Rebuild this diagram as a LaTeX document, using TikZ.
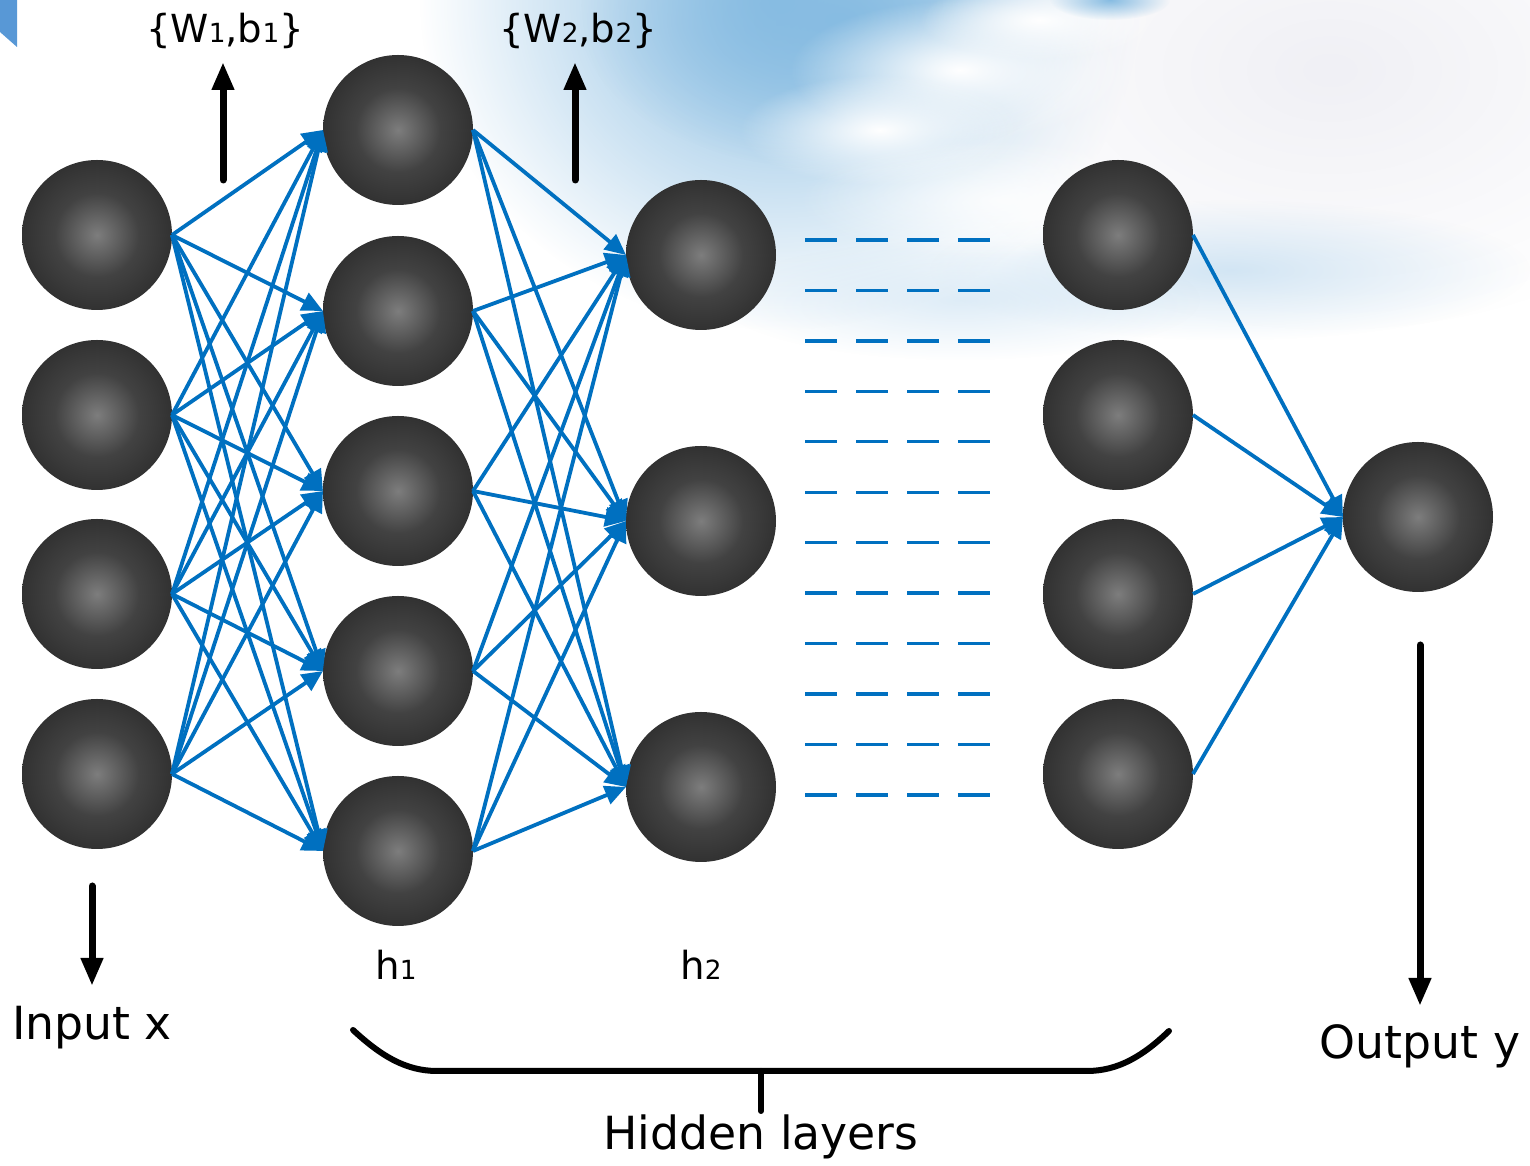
\documentclass[tikz,border=0pt]{standalone}
\usepackage{fontspec}
\setmainfont{DejaVu Sans}
\usepackage{graphicx}
\usetikzlibrary{arrows.meta,fadings}

\definecolor{nnblue}{RGB}{0,112,192}
\definecolor{skyblue}{RGB}{135,188,226}
\definecolor{skypale}{RGB}{200,224,242}
\definecolor{cloudgray}{RGB}{240,240,245}
\definecolor{cornerblue}{RGB}{88,152,214}
\definecolor{sphc}{RGB}{125,125,125}
\definecolor{sphm}{RGB}{66,66,66}
\definecolor{sphq}{RGB}{42,42,42}
\definecolor{sphd}{RGB}{26,26,26}

\pgfdeclareradialshading{sphere}{\pgfpoint{0bp}{0bp}}{color(0bp)=(sphc); color(14bp)=(sphm); color(30bp)=(sphq); color(48bp)=(sphd); color(50bp)=(sphd)}
\tikzfading[name=blobfade, inner color=transparent!0, outer color=transparent!100]

\newcommand\sbd[1]{{\fontsize{7.5pt}{8pt}\selectfont #1}}

\begin{document}
\begin{tikzpicture}[x=0.1mm,y=-0.1mm,
  neuron/.style={circle, minimum size=15mm, inner sep=0pt, outer sep=0pt, shading=sphere},
  wire/.style={draw=nnblue, line width=0.38mm, -{Triangle[length=2.1mm,width=1.9mm]}},
  bigarrow/.style={draw=black, line width=0.7mm, line cap=round, -{Triangle[length=2.8mm,width=2.1mm]}},
  dashrow/.style={draw=nnblue, line width=0.33mm, dash pattern=on 3.2mm off 1.9mm},
  bracepath/.style={draw=black, line width=0.6mm, line cap=round},
  biglbl/.style={anchor=base, inner sep=0pt, font=\fontsize{13pt}{15pt}\selectfont},
  smalllbl/.style={anchor=base, inner sep=0pt, font=\fontsize{11pt}{13pt}\selectfont},
  blob/.style={path fading=blobfade, draw=none}
]
\useasboundingbox (0,0) rectangle (1530,1166);
\fill[white] (0,0) rectangle (1530,1166);

% sky background
\fill[skyblue, blob] (780,0) ellipse [x radius=360, y radius=330];
\fill[skyblue, blob] (840,20) ellipse [x radius=260, y radius=150];
\fill[cloudgray, blob] (1330,70) ellipse [x radius=420, y radius=260];
\fill[skypale, blob, opacity=0.8] (1230,270) ellipse [x radius=300, y radius=70];
\fill[skypale, blob, opacity=0.6] (960,300) ellipse [x radius=240, y radius=60];
\fill[white, blob] (960,70) ellipse [x radius=170, y radius=70];
\fill[white, blob] (880,130) ellipse [x radius=140, y radius=55];
\fill[white, blob] (1040,20) ellipse [x radius=120, y radius=40];
\fill[white, blob, opacity=0.8] (1000,200) ellipse [x radius=200, y radius=60];
\fill[skyblue, blob] (1110,0) ellipse [x radius=60, y radius=20];

% corner mark
\fill[cornerblue] (0,0) -- (17,0) -- (17,47) -- (0,32) -- cycle;

% neurons
\foreach \k/\y in {1/235,2/415,3/594,4/774} \node[neuron] (i\k) at (97,\y) {};
\foreach \k/\y in {1/130,2/311,3/491,4/671,5/851} \node[neuron] (a\k) at (398,\y) {};
\foreach \k/\y in {1/255,2/521,3/787} \node[neuron] (b\k) at (701,\y) {};
\foreach \k/\y in {1/235,2/415,3/594,4/774} \node[neuron] (c\k) at (1118,\y) {};
\node[neuron] (o) at (1418,517) {};

% connections
\foreach \s in {1,...,4} \foreach \t in {1,...,5} \draw[wire] (i\s.east) -- (a\t.west);
\foreach \s in {1,...,5} \foreach \t in {1,...,3} \draw[wire] (a\s.east) -- (b\t.west);
\foreach \s in {1,...,4} \draw[wire] (c\s.east) -- (o.west);

% dashed rows
\foreach \k in {0,...,11} \draw[dashrow] (805,{240+\k*50.45}) -- (991,{240+\k*50.45});

% parameter arrows and labels
\coordinate (w1s) at (223,180); \coordinate (w1e) at (223,62);
\coordinate (w2s) at (575,180); \coordinate (w2e) at (575,62);
\draw[bigarrow] (w1s) -- (w1e);
\draw[bigarrow] (w2s) -- (w2e);
\node[smalllbl] (w1lbl) at (225,43) {\{W\sbd{1},b\sbd{1}\}};
\node[smalllbl] (w2lbl) at (578,43) {\{W\sbd{2},b\sbd{2}\}};

% input / output arrows
\coordinate (ins) at (92,886); \coordinate (ine) at (92,986);
\coordinate (outs) at (1420,645); \coordinate (oute) at (1420,1006);
\draw[bigarrow] (ins) -- (ine);
\draw[bigarrow] (outs) -- (oute);
\node[biglbl] (inlbl) at (92,1040) {Input x};
\node[biglbl] (outlbl) at (1420,1059) {Output y};

% layer labels
\node[smalllbl] (h1lbl) at (396,980) {h\sbd{1}};
\node[smalllbl] (h2lbl) at (701,980) {h\sbd{2}};

% brace
\draw[bracepath] (353,1030) .. controls (380,1055) and (405,1071) .. (437,1071) -- (1087,1071) .. controls (1119,1071) and (1144,1055) .. (1169,1031);
\coordinate (bmid) at (761,1071); \coordinate (bbot) at (761,1111);
\draw[bracepath] (bmid) -- (bbot);
\node[biglbl] (hidlbl) at (761,1150) {Hidden layers};
\end{tikzpicture}
\end{document}
